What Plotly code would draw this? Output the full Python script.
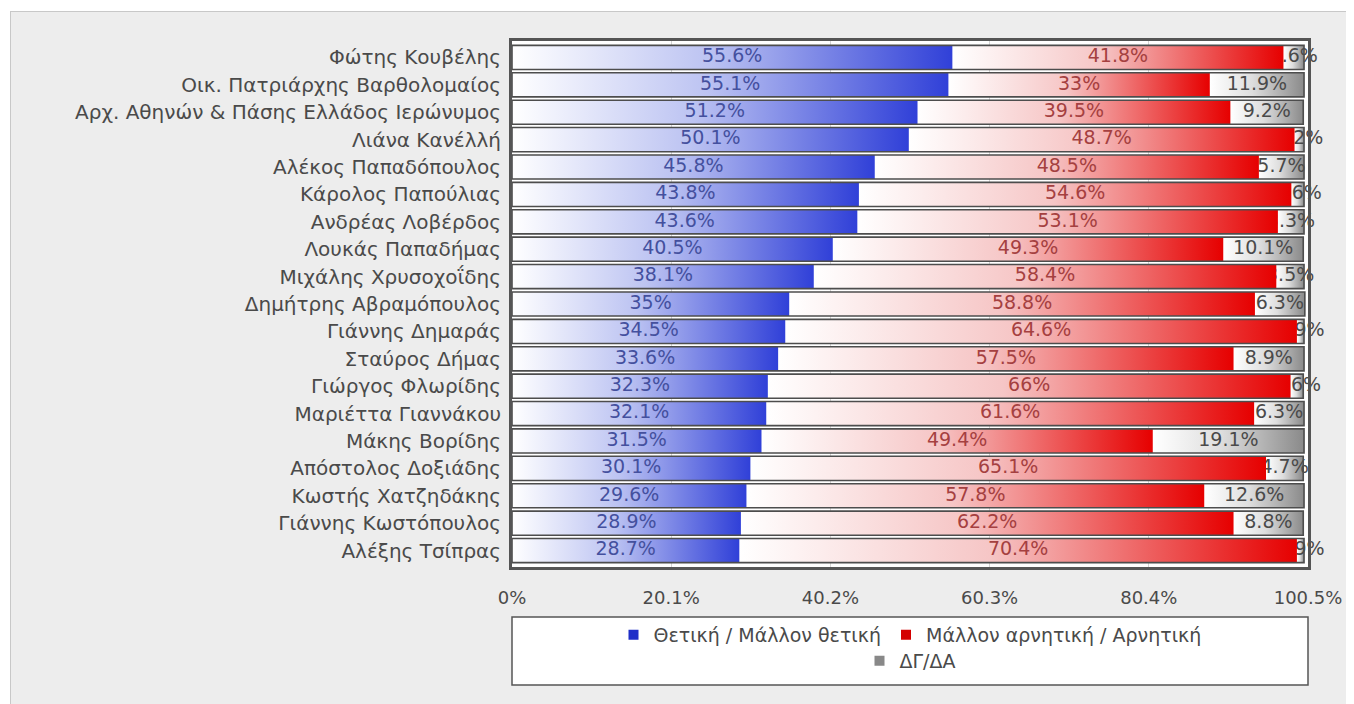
import plotly.graph_objects as go

names = [
    "Φώτης Κουβέλης",
    "Οικ. Πατριάρχης Βαρθολομαίος",
    "Αρχ. Αθηνών & Πάσης Ελλάδος Ιερώνυμος",
    "Λιάνα Κανέλλή",
    "Αλέκος Παπαδόπουλος",
    "Κάρολος Παπούλιας",
    "Ανδρέας Λοβέρδος",
    "Λουκάς Παπαδήμας",
    "Μιχάλης Χρυσοχοΐδης",
    "Δημήτρης Αβραμόπουλος",
    "Γιάννης Δημαράς",
    "Σταύρος Δήμας",
    "Γιώργος Φλωρίδης",
    "Μαριέττα Γιαννάκου",
    "Μάκης Βορίδης",
    "Απόστολος Δοξιάδης",
    "Κωστής Χατζηδάκης",
    "Γιάννης Κωστόπουλος",
    "Αλέξης Τσίπρας",
]
positive = [55.6, 55.1, 51.2, 50.1, 45.8, 43.8, 43.6, 40.5, 38.1, 35, 34.5, 33.6, 32.3, 32.1, 31.5, 30.1, 29.6, 28.9, 28.7]
negative = [41.8, 33, 39.5, 48.7, 48.5, 54.6, 53.1, 49.3, 58.4, 58.8, 64.6, 57.5, 66, 61.6, 49.4, 65.1, 57.8, 62.2, 70.4]
dkna = [2.6, 11.9, 9.2, 1.2, 5.7, 1.6, 3.3, 10.1, 3.5, 6.3, 0.9, 8.9, 1.6, 6.3, 19.1, 4.7, 12.6, 8.8, 0.9]
series_names = ["Θετική / Μάλλον θετική", "Μάλλον αρνητική / Αρνητική", "ΔΓ/ΔΑ"]
tick_vals = [0, 20.1, 40.2, 60.3, 80.4, 100.5]
tick_text = ["0%", "20.1%", "40.2%", "60.3%", "80.4%", "100.5%"]

FONT = "DejaVu Sans"
OFF = 8  # page body margin
W, H = 1354 - OFF, 704 - OFF
PL, PR, PT, PB = 512 - OFF, 1308 - OFF, 41 - OFF, 567 - OFF
pw, ph = PR - PL, PB - PT


def px_x(p):
    return (p - OFF - PL) / pw


def px_y(p):
    return (PB - (p - OFF)) / ph


series = [positive, negative, dkna]
scales = [
    [[0, "#ffffff"], [0.45, "#bcc3f2"], [1, "#3040d8"]],
    [[0, "#ffffff"], [0.45, "#f6c6c6"], [1, "#e60000"]],
    [[0, "#ffffff"], [0.45, "#dedede"], [1, "#8a8a8a"]],
]
legend_colors = ["#1f2fc8", "#d40000", "#888888"]
text_colors = ["#44509e", "#a54040", "#4a4a4a"]

n = len(names)
hh = 0.44
rows = list(range(n))

lefts = [[0.0] * n, list(positive), [p + q for p, q in zip(positive, negative)]]

fig = go.Figure()


def add_segments(s):
    vals = series[s]
    for i in rows:
        l = lefts[s][i]
        r = l + vals[i]
        fig.add_trace(go.Scatter(
            x=[l, r, r, l, l], y=[i - hh, i - hh, i + hh, i + hh, i - hh],
            mode="lines", fill="toself", line=dict(width=0),
            fillgradient=dict(type="horizontal", colorscale=scales[s]),
            hoverinfo="skip", showlegend=False,
        ))


def add_texts(s):
    vals = series[s]
    fig.add_trace(go.Scatter(
        x=[lefts[s][i] + vals[i] / 2 for i in rows], y=rows,
        mode="text", text=[f"{v:g}%" for v in vals],
        textfont=dict(family=FONT, size=19, color=text_colors[s]),
        cliponaxis=False, hoverinfo="skip", showlegend=False,
    ))


# z-order: grey segments & labels below, then red, then blue
add_segments(2)
add_texts(2)
add_segments(1)
add_texts(1)
add_segments(0)
add_texts(0)

# outlines of each bar row
ox, oy = [], []
for i in rows:
    tot = positive[i] + negative[i] + dkna[i]
    ox += [0, tot, tot, 0, 0, None]
    oy += [i - hh, i - hh, i + hh, i + hh, i - hh, None]
fig.add_trace(go.Scatter(x=ox, y=oy, mode="lines", line=dict(color="#4d4d4d", width=1.6),
                         hoverinfo="skip", showlegend=False))

# legend entries
for s in range(3):
    fig.add_trace(go.Scatter(
        x=[None], y=[None], mode="markers", name=series_names[s],
        marker=dict(symbol="square", size=10, color=legend_colors[s]),
        legend="legend" if s < 2 else "legend2",
    ))

shapes = [
    # white strips outside the grey panel
    dict(type="rect", xref="paper", yref="paper", x0=px_x(OFF), x1=px_x(1354), y0=px_y(11), y1=px_y(OFF),
         fillcolor="#ffffff", line=dict(width=0), layer="below"),
    dict(type="rect", xref="paper", yref="paper", x0=px_x(OFF), x1=px_x(10), y0=px_y(704), y1=px_y(OFF),
         fillcolor="#ffffff", line=dict(width=0), layer="below"),
    dict(type="line", xref="paper", yref="paper", x0=px_x(10), x1=px_x(1354), y0=px_y(11.5), y1=px_y(11.5),
         line=dict(color="#c8c8c8", width=1), layer="below"),
    dict(type="line", xref="paper", yref="paper", x0=px_x(10.5), x1=px_x(10.5), y0=px_y(704), y1=px_y(11),
         line=dict(color="#c8c8c8", width=1), layer="below"),
    # legend box
    dict(type="rect", xref="paper", yref="paper", x0=0, x1=1, y0=px_y(685), y1=px_y(617),
         fillcolor="#ffffff", line=dict(color="#555555", width=1.5), layer="below"),
]

fig.update_layout(
    width=W, height=H,
    margin=dict(l=PL, r=W - PR, t=PT, b=H - PB),
    paper_bgcolor="#ededed",
    plot_bgcolor="#ffffff",
    font=dict(family=FONT, size=16, color="#444444"),
    shapes=shapes,
    xaxis=dict(
        range=[0, 100.5], tickvals=tick_vals, ticktext=tick_text,
        showgrid=True, gridcolor="#d4d4d4", gridwidth=1, zeroline=False,
        showline=True, linecolor="#555555", linewidth=3, mirror=True,
        ticks="", ticklabelstandoff=12,
        tickfont=dict(family=FONT, size=18, color="#4a4a4a"),
        fixedrange=True,
    ),
    yaxis=dict(
        range=[n - 1 + 0.6, -0.6], tickvals=rows, ticktext=names,
        showgrid=False, zeroline=False,
        showline=True, linecolor="#555555", linewidth=3, mirror=True,
        ticks="", ticklabelstandoff=4,
        tickfont=dict(family=FONT, size=20, color="#4a4a4a"),
        fixedrange=True,
    ),
    legend=dict(
        orientation="h", x=0.5, xanchor="center", y=px_y(635), yanchor="middle",
        bgcolor="rgba(0,0,0,0)", font=dict(family=FONT, size=19, color="#4a4a4a"),
        itemwidth=30, tracegroupgap=0,
    ),
    legend2=dict(
        orientation="h", x=0.5, xanchor="center", y=px_y(661), yanchor="middle",
        bgcolor="rgba(0,0,0,0)", font=dict(family=FONT, size=19, color="#4a4a4a"),
        itemwidth=30,
    ),
    showlegend=True,
)

fig.write_html("out.html")
